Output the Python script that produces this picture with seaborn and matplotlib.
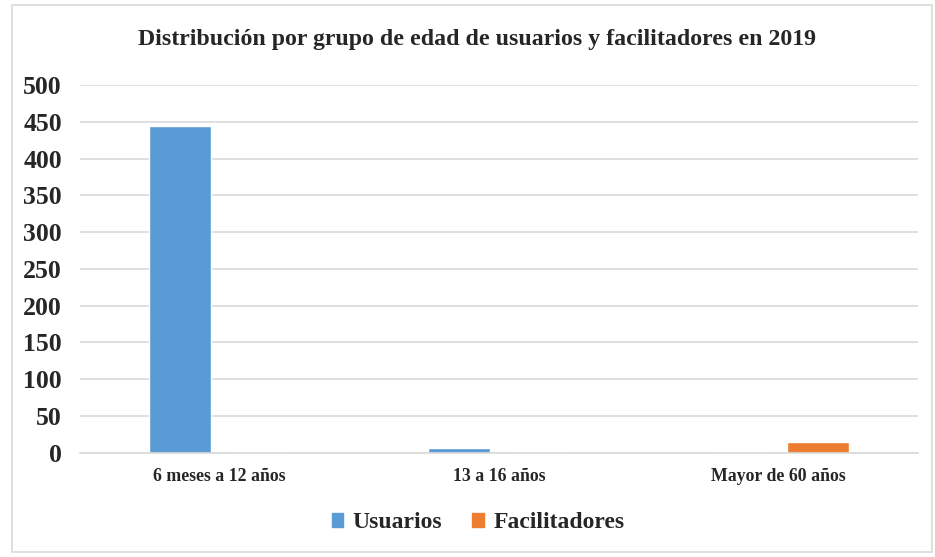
import matplotlib
matplotlib.use("Agg")
import matplotlib.pyplot as plt
import seaborn as sns
import pandas as pd
from matplotlib.patches import Rectangle, Patch

categories = ["6 meses a 12 años", "13 a 16 años", "Mayor de 60 años"]
series_names = ["Usuarios", "Facilitadores"]
usuarios = [444, 6, 0]
facilitadores = [0, 0, 15]
yticks = [0, 50, 100, 150, 200, 250, 300, 350, 400, 450, 500]
title = "Distribución por grupo de edad de usuarios y facilitadores en 2019"
colors = ["#5B9BD5", "#ED7D31"]

df = pd.DataFrame({
    "Grupo": categories * 2,
    "Serie": [series_names[0]] * 3 + [series_names[1]] * 3,
    "Valor": usuarios + facilitadores,
})

sns.set_theme(style="white")
plt.rcParams["font.family"] = ["Liberation Serif", "DejaVu Serif"]
plt.rcParams["font.weight"] = "bold"

fig = plt.figure(figsize=(9.35, 5.57), dpi=100)
ax = fig.add_axes([80 / 935, 1 - 452.7 / 557, (918 - 80) / 935, (452.7 - 85) / 557])

sns.barplot(data=df, x="Grupo", y="Valor", hue="Serie", order=categories,
            hue_order=series_names, palette=colors, width=0.573, gap=0.225,
            saturation=1, ax=ax, legend=False)

ax.set_ylim(0, 500)
ax.set_xlim(-0.5, 2.5)
ax.set_yticks(yticks)
ax.set_yticklabels([str(v) for v in yticks], fontsize=18.5, fontweight="bold")
ax.set_xticks(range(len(categories)))
ax.set_xticklabels(categories, fontsize=12.8, fontweight="bold")
ax.set_xlabel("")
ax.set_ylabel("")
ax.yaxis.grid(True, color="#d9d9d9", linewidth=1.2)
ax.set_axisbelow(True)
for s in ["top", "right", "left"]:
    ax.spines[s].set_visible(False)
ax.spines["bottom"].set_color("#d9d9d9")
ax.spines["bottom"].set_linewidth(1.2)
ax.tick_params(axis="both", length=0)
ax.tick_params(axis="y", pad=13)
ax.tick_params(axis="x", pad=11)

fig.text(477 / 935, 1 - 40 / 557, title, ha="center", va="center",
         fontsize=17.2, fontweight="bold")

handles = [Patch(facecolor=c, edgecolor=c) for c in colors]
fig.legend(handles, series_names, loc="center", bbox_to_anchor=(478 / 935, 1 - 523 / 557),
           ncol=2, frameon=False, prop={"size": 17, "weight": "bold"},
           handlelength=0.5, handleheight=0.5, columnspacing=1.25, handletextpad=0.4)

fig.patches.append(Rectangle((12 / 935, 1 - 552 / 557), (932 - 12) / 935, (552 - 5) / 557,
                             transform=fig.transFigure, fill=False,
                             edgecolor="#d9d9d9", linewidth=1.2))

fig.savefig("out.png", dpi=100)
